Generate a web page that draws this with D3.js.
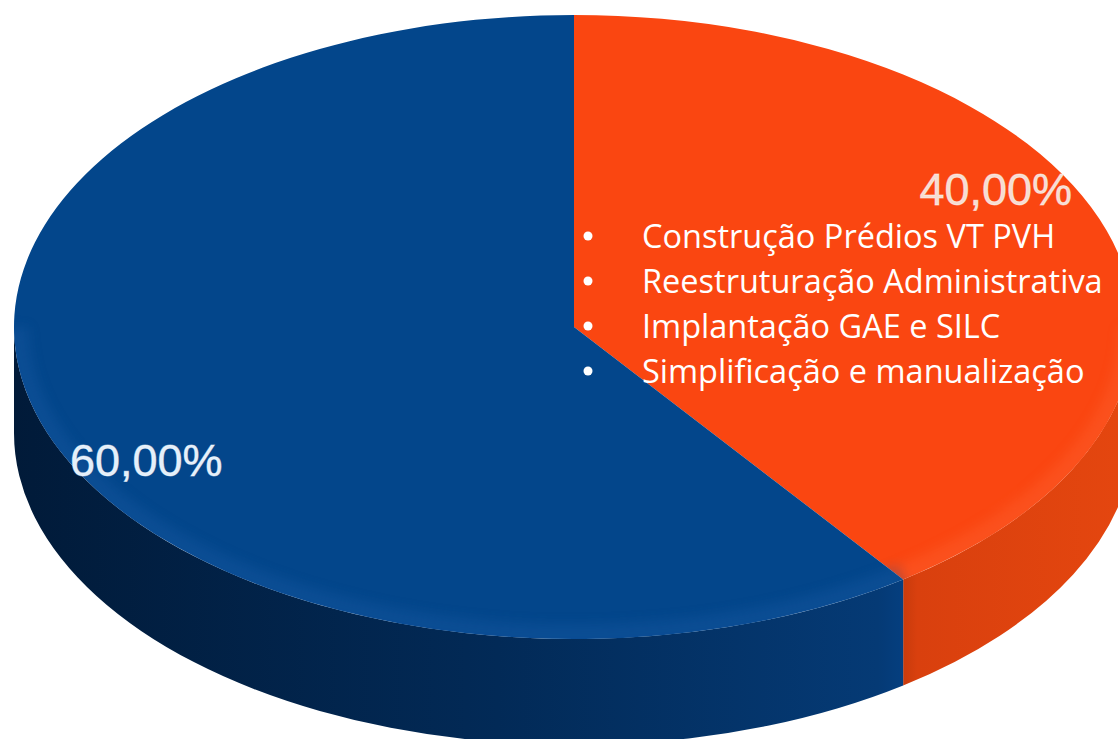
<!DOCTYPE html>
<html>
<head>
<meta charset="utf-8">
<script src="https://cdn.jsdelivr.net/npm/d3@7"></script>
<style>
  html, body { margin: 0; padding: 0; background: #fff; }
  svg { display: block; }
</style>
</head>
<body>
<div id="chart"></div>
<script>
// Data
const sliceNames = ["Projetos concluídos", "Projetos em andamento"];
const sliceValues = [0.40, 0.60];
const sliceColors = ["#fa4611", "#03468b"];
const bulletItems = [
    "Construção Prédios VT PVH",
    "Reestruturação Administrativa",
    "Implantação GAE e SILC",
    "Simplificação e manualização"
];

const WIDTH = 1118;
const HEIGHT = 739;

// 3D pie geometry
const CX = 574, CY = 327, RX = 560, RY = 312, DEPTH = 106;

const ptBR = d3.formatLocale({ decimal: ",", thousands: ".", grouping: [3], currency: ["R$", ""] });
const fmtPct = ptBR.format(".2%");

const svg = d3.select("#chart")
    .append("svg")
    .attr("width", WIDTH)
    .attr("height", HEIGHT);

const defs = svg.append("defs");

// side gradients
const blueSide = defs.append("linearGradient")
    .attr("id", "blueSide")
    .attr("gradientUnits", "userSpaceOnUse")
    .attr("x1", 0).attr("x2", 905).attr("y1", 0).attr("y2", 0);
blueSide.append("stop").attr("offset", "0").attr("stop-color", "#011a38");
blueSide.append("stop").attr("offset", "0.55").attr("stop-color", "#022a57");
blueSide.append("stop").attr("offset", "0.97").attr("stop-color", "#053a75");
blueSide.append("stop").attr("offset", "1").attr("stop-color", "#053f80");

const orangeSide = defs.append("linearGradient")
    .attr("id", "orangeSide")
    .attr("gradientUnits", "userSpaceOnUse")
    .attr("x1", 890).attr("x2", 1118).attr("y1", 0).attr("y2", 0);
orangeSide.append("stop").attr("offset", "0").attr("stop-color", "#b8360b");
orangeSide.append("stop").attr("offset", "0.12").attr("stop-color", "#d9400e");
orangeSide.append("stop").attr("offset", "1").attr("stop-color", "#e4460f");

const sideFill = ["url(#orangeSide)", "url(#blueSide)"];

const blur = defs.append("filter").attr("id", "soft").attr("x", "-10%").attr("y", "-10%")
    .attr("width", "120%").attr("height", "120%");
blur.append("feGaussianBlur").attr("stdDeviation", 6);

// angle measured clockwise from 12 o'clock
const pt = (a, dy = 0) => [CX + RX * Math.sin(a), CY - RY * Math.cos(a) + dy];

const pie = d3.pie().sort(null).value(d => d)(sliceValues);

function topPath(a0, a1) {
    const p0 = pt(a0), p1 = pt(a1);
    const large = (a1 - a0) > Math.PI ? 1 : 0;
    return `M${CX},${CY}L${p0}A${RX},${RY} 0 ${large} 1 ${p1}Z`;
}

function sidePath(a0, a1) {
    const s = Math.max(a0, Math.PI / 2);
    const e = Math.min(a1, 3 * Math.PI / 2);
    if (e <= s) return null;
    const p0 = pt(s), p1 = pt(e);
    const q0 = pt(s, DEPTH), q1 = pt(e, DEPTH);
    return `M${p0}A${RX},${RY} 0 0 1 ${p1}L${q1}A${RX},${RY} 0 0 0 ${q0}Z`;
}

// sides
const sides = svg.append("g");
pie.forEach((d, i) => {
    const p = sidePath(d.startAngle, d.endAngle);
    if (p) sides.append("path").attr("d", p).attr("fill", sideFill[i]);
});

// top faces
const tops = svg.append("g");
pie.forEach((d, i) => {
    tops.append("path")
        .attr("d", topPath(d.startAngle, d.endAngle))
        .attr("fill", sliceColors[i]);
});

// light bevel along the front rim
const clip = defs.append("clipPath").attr("id", "topClip");
clip.append("ellipse").attr("cx", CX).attr("cy", CY).attr("rx", RX).attr("ry", RY);
const bevel = svg.append("g").attr("clip-path", "url(#topClip)").attr("opacity", 0.3);
pie.forEach((d, i) => {
    const s = Math.max(d.startAngle, Math.PI / 2);
    const e = Math.min(d.endAngle, 3 * Math.PI / 2);
    if (e <= s) return;
    bevel.append("path")
        .attr("d", `M${pt(s)}A${RX},${RY} 0 0 1 ${pt(e)}`)
        .attr("fill", "none")
        .attr("stroke", i === 0 ? "#ff6a3a" : "#1a5ea8")
        .attr("stroke-width", 30)
        .attr("filter", "url(#soft)");
});

// percentage labels
const labelPos = [
    { x: 1072, y: 205, anchor: "end", fill: "#f6ddd2" },
    { x: 70, y: 476, anchor: "start", fill: "#e4effa" }
];
svg.append("g")
    .selectAll("text")
    .data(pie)
    .join("text")
    .attr("x", (d, i) => labelPos[i].x)
    .attr("y", (d, i) => labelPos[i].y)
    .attr("text-anchor", (d, i) => labelPos[i].anchor)
    .attr("font-family", "'Liberation Sans', Arial, sans-serif")
    .attr("font-size", 45)
    .attr("fill", (d, i) => labelPos[i].fill)
    .attr("stroke", "rgba(255,255,255,0.5)")
    .attr("stroke-width", 0.8)
    .text(d => fmtPct(d.data));

// bullet list
const list = svg.append("g").attr("transform", "translate(588,248)");
const LINE_H = 45;
list.selectAll("circle")
    .data(bulletItems)
    .join("circle")
    .attr("cx", 0)
    .attr("cy", (d, i) => i * LINE_H - 12)
    .attr("r", 4.5)
    .attr("fill", "#fff");
list.selectAll("text")
    .data(bulletItems)
    .join("text")
    .attr("x", 54)
    .attr("y", (d, i) => i * LINE_H)
    .attr("font-family", "'Open Sans', 'Noto Sans', sans-serif")
    .attr("font-size", 32.5)
    .attr("fill", "#fff")
    .text(d => d);
</script>
</body>
</html>
